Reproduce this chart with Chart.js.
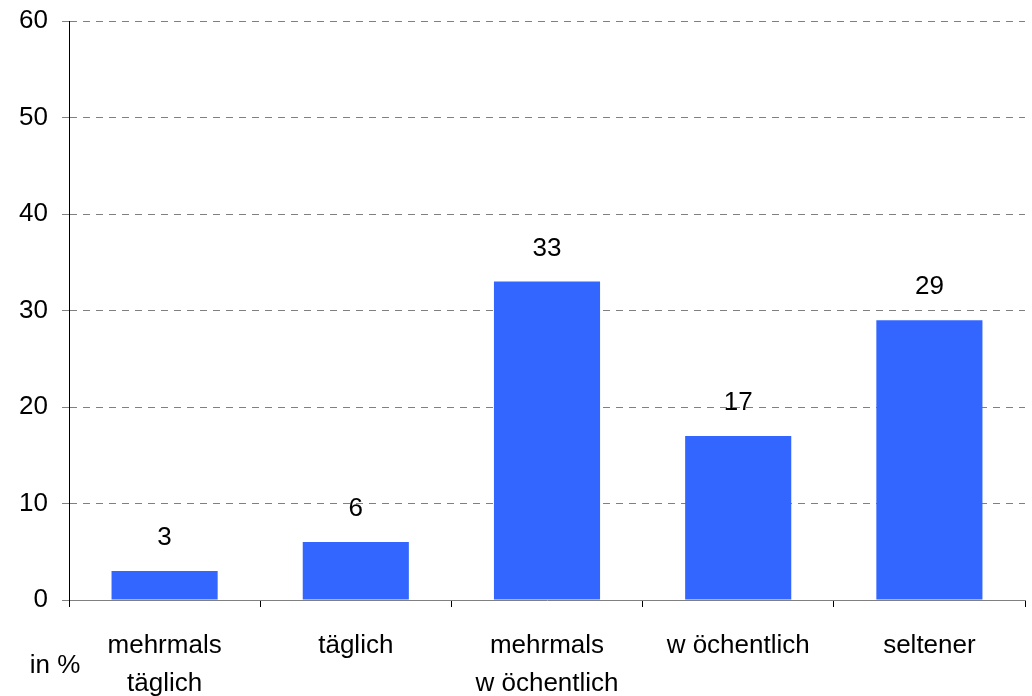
<!DOCTYPE html>
<html>
<head>
<meta charset="utf-8">
<script src="https://cdn.jsdelivr.net/npm/chart.js@4"></script>
<style>
html,body{margin:0;padding:0;background:#fff;}
#wrap{width:1032px;height:696px;position:relative;}
</style>
</head>
<body>
<div id="wrap"><canvas id="c" width="1032" height="696"></canvas></div>
<script>
const categories = [["mehrmals","täglich"], "täglich", ["mehrmals","w öchentlich"], "w öchentlich", "seltener"];
const values = [3, 6, 33, 17, 29];
const yTicks = [0, 10, 20, 30, 40, 50, 60];
const unitLabel = "in %";

const FONT = "'Liberation Sans', Arial, sans-serif";

const labelPlugin = {
  id: 'valueLabels',
  afterDatasetsDraw(chart) {
    const ctx = chart.ctx;
    const meta = chart.getDatasetMeta(0);
    ctx.save();
    ctx.fillStyle = '#000';
    ctx.font = "26px " + FONT;
    ctx.textAlign = 'center';
    ctx.textBaseline = 'middle';
    meta.data.forEach((el, i) => {
      ctx.fillText(String(values[i]), el.x, el.y - 33);
    });
    ctx.fillText(unitLabel, 55, 666);
    ctx.restore();
  }
};

new Chart(document.getElementById('c'), {
  type: 'bar',
  data: {
    labels: categories,
    datasets: [{
      data: values,
      backgroundColor: '#3366FF',
      borderWidth: 0,
      barPercentage: 0.555,
      categoryPercentage: 1.0
    }]
  },
  options: {
    responsive: false,
    animation: false,
    layout: { padding: { left: 0, right: 7, top: 21, bottom: 0 } },
    plugins: { legend: { display: false }, tooltip: { enabled: false } },
    scales: {
      x: {
        afterFit(scale) { scale.height = 96; scale.paddingLeft = 0; scale.paddingRight = 0; },
        grid: {
          offset: true,
          drawOnChartArea: false,
          drawTicks: true,
          tickLength: 7,
          tickColor: '#000',
          color: '#000'
        },
        border: { display: true, color: '#808080', width: 1 },
        ticks: {
          color: '#000',
          font: { family: FONT, size: 26, lineHeight: 1.46 },
          padding: 20,
          maxRotation: 0,
          autoSkip: false
        }
      },
      y: {
        min: 0, max: 60,
        afterFit(scale) { scale.width = 69; scale.paddingTop = 0; scale.paddingBottom = 0; },
        afterBuildTicks(scale) { scale.ticks = yTicks.map(v => ({ value: v })); },
        grid: {
          color: '#808080',
          lineWidth: 1,
          tickLength: 7,
          tickColor: '#808080',
          tickBorderDash: [],
        },
        border: { display: true, color: '#000', width: 1, dash: [7, 6] },
        ticks: {
          color: '#000',
          font: { family: FONT, size: 26 },
          padding: 14,
          stepSize: 10
        }
      }
    }
  },
  plugins: [labelPlugin]
});
</script>
</body>
</html>
